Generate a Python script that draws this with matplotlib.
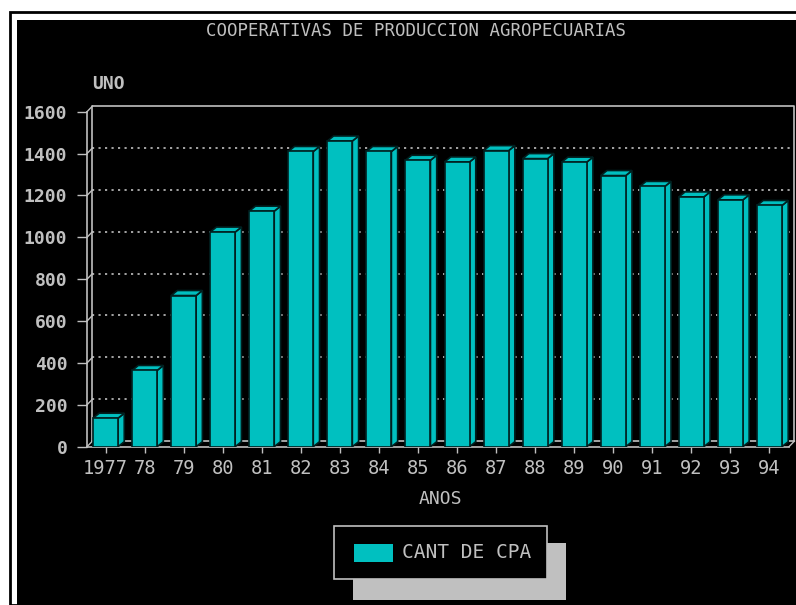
import matplotlib
matplotlib.use("Agg")
import matplotlib.pyplot as plt
from matplotlib.patches import Rectangle, Polygon
import numpy as np

# Data
years = ["1977", "78", "79", "80", "81", "82", "83", "84", "85",
         "86", "87", "88", "89", "90", "91", "92", "93", "94"]
cpa_count = [136, 364, 722, 1025, 1125, 1410, 1460, 1410, 1368,
             1360, 1414, 1376, 1359, 1295, 1243, 1193, 1179, 1152]
y_ticks = [0, 200, 400, 600, 800, 1000, 1200, 1400, 1600]

W, H = 796, 605
CYAN = "#00C0C0"
GRAY = "#C0C0C0"
EDGE = "#002020"
FONT = "DejaVu Sans Mono"


def fx(x):
    return x / W


def fy(y):
    return 1 - y / H


fig = plt.figure(figsize=(W / 100, H / 100), dpi=100)
fig.patch.set_facecolor("white")

# outer frame and black panel (behind the axes)
fig.patches.append(Rectangle((fx(10), 0), 1.2, fy(12), transform=fig.transFigure,
                             facecolor="none", edgecolor="black", linewidth=2,
                             zorder=-10))
fig.patches.append(Rectangle((fx(17), 0), 1.0, fy(20), transform=fig.transFigure,
                             facecolor="black", edgecolor="none", zorder=-10))

left, right, top, bottom = 87, 789, 111.7, 446.7
ax = fig.add_axes([fx(left), fy(bottom), fx(right - left), (bottom - top) / H])
ax.patch.set_visible(False)
x = np.arange(len(years))
xmin, xmax = -0.474, 17.5
ax.set_xlim(xmin, xmax)
ax.set_ylim(0, 1600)

# back wall offset and bar depth (data units)
wdx, wdy = 0.14, 27
bdx, bdy = 0.16, 24

# back wall frame, floor and dotted grid
ax.plot([xmin + wdx, xmin + wdx, xmax + wdx, xmax + wdx],
        [wdy, 1600 + wdy, 1600 + wdy, wdy],
        color=GRAY, lw=1.2, clip_on=False, zorder=1)
ax.plot([xmin + wdx, xmax + wdx], [wdy, wdy], color=GRAY, lw=1.2,
        clip_on=False, zorder=1)
for v in y_ticks[1:-1]:
    ax.plot([xmin + wdx, xmax + wdx], [v + wdy, v + wdy], color=GRAY, lw=1.2,
            dashes=(1.3, 2.6), clip_on=False, zorder=1)
for v in y_ticks:
    ax.plot([xmin, xmin + wdx], [v, v + wdy], color=GRAY, lw=1,
            clip_on=False, zorder=1)
ax.plot([xmax, xmax + wdx], [0, wdy], color=GRAY, lw=1, clip_on=False, zorder=1)

# bars with 3D side and top faces
w = 0.64
ax.bar(x, cpa_count, width=w, color=CYAN, edgecolor=EDGE, linewidth=1.2, zorder=4)
for xi, v in zip(x, cpa_count):
    side = Polygon([(xi + w / 2, 0), (xi + w / 2 + bdx, bdy),
                    (xi + w / 2 + bdx, v + bdy), (xi + w / 2, v)],
                   facecolor=CYAN, edgecolor=EDGE, linewidth=1.2, zorder=3)
    topf = Polygon([(xi - w / 2, v), (xi - w / 2 + bdx, v + bdy),
                    (xi + w / 2 + bdx, v + bdy), (xi + w / 2, v)],
                   facecolor=CYAN, edgecolor=EDGE, linewidth=1.2, zorder=3)
    ax.add_patch(side)
    ax.add_patch(topf)

# front axes
for s in ["top", "right"]:
    ax.spines[s].set_visible(False)
ax.spines["left"].set_color(GRAY)
ax.spines["bottom"].set_color(GRAY)
ax.spines["left"].set_linewidth(1.2)
ax.spines["bottom"].set_linewidth(1.2)
ax.spines["bottom"].set_zorder(2)
ax.set_yticks(y_ticks)
ax.set_yticklabels([str(v) for v in y_ticks], fontfamily=FONT, fontweight="bold")
ax.set_xticks(x)
ax.set_xticklabels(years, fontfamily=FONT)
ax.tick_params(axis="y", direction="out", length=7.2, width=1, color=GRAY,
               labelcolor=GRAY, labelsize=13, pad=7)
ax.tick_params(axis="x", direction="out", length=4.5, width=1, color=GRAY,
               labelcolor=GRAY, labelsize=13.5, pad=4)

# texts
fig.text(fx(416), fy(31.5), "COOPERATIVAS DE PRODUCCION AGROPECUARIAS",
         color=GRAY, fontsize=12.5, fontfamily=FONT, ha="center", va="center")
fig.text(fx(108), fy(84), "UNO", color=GRAY, fontsize=13, fontfamily=FONT,
         fontweight="bold", ha="center", va="center")
fig.text(fx(440), fy(499), "ANOS", color=GRAY, fontsize=13, fontfamily=FONT,
         ha="center", va="center")

# legend with shadow
fig.patches.append(Rectangle((fx(353), fy(600)), fx(566 - 353), (600 - 543) / H,
                             transform=fig.transFigure, facecolor=GRAY,
                             edgecolor="none"))
fig.patches.append(Rectangle((fx(334), fy(579)), fx(547 - 334), (579 - 526) / H,
                             transform=fig.transFigure, facecolor="black",
                             edgecolor=GRAY, linewidth=1.2))
fig.patches.append(Rectangle((fx(354), fy(562)), fx(393 - 354), (562 - 544) / H,
                             transform=fig.transFigure, facecolor=CYAN,
                             edgecolor="none"))
fig.text(fx(402), fy(552.5), "CANT DE CPA", color=GRAY, fontsize=14,
         fontfamily=FONT, ha="left", va="center")

fig.savefig("out.png", dpi=100)
